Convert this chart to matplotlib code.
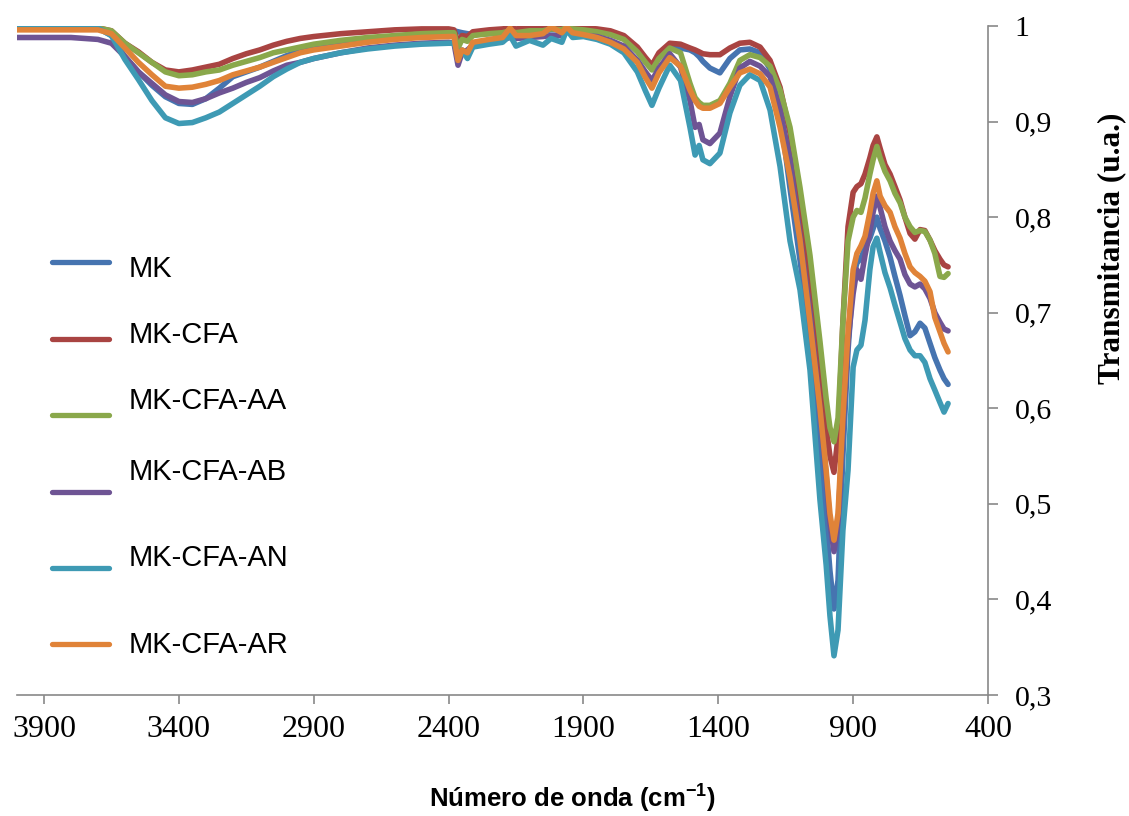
import matplotlib
matplotlib.use("Agg")
import matplotlib.pyplot as plt
from matplotlib.transforms import Affine2D

plt.rcParams['font.family'] = ['Liberation Serif', 'DejaVu Serif']
plt.rcParams['mathtext.fontset'] = 'custom'
plt.rcParams['mathtext.bf'] = 'Liberation Sans:bold'
plt.rcParams['mathtext.rm'] = 'Liberation Sans:bold'

# wavenumber grid (cm-1)
wavenumber = [4000, 3800, 3700, 3650, 3600, 3550, 3500, 3450, 3400, 3350, 3300, 3250,
              3200, 3150, 3100, 3050, 3000, 2950, 2900, 2800, 2700, 2600, 2500, 2400,
              2380, 2365, 2350, 2330, 2310, 2250, 2200, 2172, 2150, 2100, 2050, 2020,
              1980, 1962, 1940,
              1900, 1850, 1800, 1750, 1700, 1670, 1646, 1620, 1580, 1540, 1505, 1486,
              1471, 1457, 1431, 1394, 1357, 1320, 1283, 1245,
              1208, 1171, 1134, 1097, 1060, 1023, 1000, 986, 971, 956, 938, 919, 900,
              886, 871, 856, 838, 826, 812, 800, 782, 763, 745, 726, 708, 689, 671,
              652, 634, 615, 597, 578, 563, 548]

mk = [.999, .999, .998, .990, .968, .952, .938, .926, .919, .918, .924, .935,
      .947, .952, .957, .963, .969, .974, .978, .983, .986, .989, .992, .995,
      .995, .994, .993, .992, .991, .992, .993, .994, .993, .995, .995, .996,
      .996, .998, .998,
      .997, .995, .992, .987, .975, .964, .955, .968, .979, .977, .975, .972,
      .968, .963, .956, .951, .966, .975, .976, .972,
      .955, .910, .830, .755, .675, .560, .480, .430, .390, .420, .550, .660, .737,
      .752, .757, .768, .778, .788, .800, .788, .775, .758, .738, .718, .697, .676, .680,
      .689, .684, .668, .653, .640, .631, .625]

mk_cfa = [.998, .998, .998, .995, .982, .973, .962, .954, .952, .954, .957, .960,
          .966, .971, .975, .980, .984, .987, .989, .992, .994, .996, .997, .997,
          .996, .983, .990, .989, .994, .996, .997, .998, .997, .998, .998, .999,
          .998, .999, .999,
          .998, .997, .995, .990, .978, .967, .959, .972, .982, .981, .977, .975,
          .973, .971, .970, .970, .977, .982, .983, .978,
          .964, .936, .888, .815, .730, .640, .580, .550, .533, .570, .690, .790, .826,
          .832, .835, .845, .862, .875, .884, .872, .855, .845, .832, .818, .800, .783, .777,
          .787, .786, .776, .765, .756, .750, .748]

mk_cfa_aa = [.998, .998, .998, .995, .982, .972, .962, .952, .948, .949, .952, .954,
             .959, .963, .967, .972, .975, .978, .981, .985, .988, .990, .992, .993,
             .993, .977, .986, .984, .990, .992, .993, .995, .993, .995, .995, .997,
             .996, .999, .997,
             .996, .994, .991, .986, .973, .962, .954, .966, .977, .972, .940, .925,
             .920, .917, .917, .922, .940, .964, .970, .967,
             .958, .933, .894, .831, .760, .670, .610, .580, .565, .590, .690, .775, .800,
             .807, .805, .820, .845, .860, .874, .862, .848, .838, .825, .815, .800, .790, .784,
             .786, .785, .776, .762, .738, .737, .741]

mk_cfa_ab = [.988, .988, .986, .982, .968, .952, .940, .928, .921, .920, .924, .930,
             .935, .941, .946, .953, .959, .962, .966, .972, .977, .980, .982, .983,
             .982, .959, .972, .975, .980, .984, .986, .988, .987, .988, .989, .990,
             .990, .995, .991,
             .990, .989, .985, .979, .964, .952, .943, .956, .971, .957, .922, .894,
             .897, .881, .877, .888, .926, .956, .963, .958,
             .947, .912, .860, .780, .700, .600, .530, .480, .450, .480, .580, .670, .720,
             .745, .735, .760, .785, .805, .822, .810, .790, .775, .765, .756, .740, .730, .727,
             .730, .725, .715, .700, .690, .683, .681]

mk_cfa_an = [.999, .999, .998, .990, .965, .944, .922, .904, .898, .899, .904, .910,
             .919, .928, .937, .947, .955, .962, .966, .972, .976, .979, .981, .982,
             .982, .970, .975, .966, .978, .981, .983, .990, .979, .985, .980, .987,
             .983, .996, .988,
             .989, .986, .981, .972, .952, .932, .917, .935, .959, .943, .894, .865,
             .875, .860, .856, .867, .909, .938, .949, .943,
             .912, .853, .775, .724, .640, .504, .436, .383, .341, .368, .472, .535, .643,
             .661, .666, .692, .745, .769, .778, .763, .742, .726, .708, .690, .673, .661, .655,
             .655, .648, .631, .619, .606, .596, .605]

mk_cfa_ar = [.996, .996, .996, .992, .977, .962, .949, .937, .935, .936, .939, .943,
             .949, .953, .957, .962, .967, .972, .975, .979, .983, .986, .988, .989,
             .989, .964, .975, .972, .983, .986, .988, .998, .990, .990, .992, .999,
             .993, .999, .993,
             .991, .988, .983, .976, .962, .946, .935, .951, .967, .958, .933, .922,
             .916, .914, .914, .919, .936, .951, .955, .950,
             .936, .894, .842, .776, .690, .600, .535, .490, .462, .490, .590, .680, .745,
             .762, .770, .780, .805, .825, .838, .822, .812, .805, .790, .778, .762, .748, .742,
             .738, .733, .722, .695, .680, .668, .659]

series = {
    "MK": mk,
    "MK-CFA": mk_cfa,
    "MK-CFA-AA": mk_cfa_aa,
    "MK-CFA-AB": mk_cfa_ab,
    "MK-CFA-AN": mk_cfa_an,
    "MK-CFA-AR": mk_cfa_ar,
}
colors = ['#4674B0', '#A94442', '#8AA84B', '#6E5494', '#3E9AB4', '#E08338']

x_ticks = [3900, 3400, 2900, 2400, 1900, 1400, 900, 400]
y_ticks = [0.3, 0.4, 0.5, 0.6, 0.7, 0.8, 0.9, 1.0]
y_tick_labels = ['0,3', '0,4', '0,5', '0,6', '0,7', '0,8', '0,9', '1']

axis_grey = '#898989'

fig = plt.figure(figsize=(11.29, 8.16), dpi=100)
ax = fig.add_axes([0.0151, 0.1483, 0.8600, 0.8198])

for (name, vals), c in zip(series.items(), colors):
    ax.plot(wavenumber, vals, color=c, lw=4.0, label=name,
            solid_capstyle='round', solid_joinstyle='round')

ax.set_xlim(4000, 400)
ax.set_ylim(0.3, 1.0)
ax.set_xticks(x_ticks)
ax.set_yticks(y_ticks)
ax.set_yticklabels(y_tick_labels)

ax.yaxis.tick_right()
for s in ['left', 'top']:
    ax.spines[s].set_visible(False)
for s in ['right', 'bottom']:
    ax.spines[s].set_color(axis_grey)
    ax.spines[s].set_linewidth(1.2)

ax.tick_params(axis='y', direction='out', length=7, width=1.2, color=axis_grey,
               pad=12, labelsize=21.5)
ax.tick_params(axis='x', direction='out', length=6.5, width=1.2, color=axis_grey,
               pad=8, labelsize=23)

leg = ax.legend(loc='upper left', bbox_to_anchor=(0.036, 0.6645), frameon=False,
                prop={'family': 'Liberation Sans', 'size': 21},
                handlelength=1.95, handletextpad=0.69, labelspacing=1.66,
                borderpad=0, borderaxespad=0)
for h in leg.get_lines():
    h.set_linewidth(3.8)
    h.set_solid_capstyle('round')
# the legend texts sit a little off their keys, as in the original chart
text_shift_px = [-5, 6, 16, 22, 12, 2]
for t, dy in zip(leg.get_texts(), text_shift_px):
    t.set_transform(t.get_transform() + Affine2D().translate(0, dy))

fig.text(0.507, 0.022, r'Número de onda (cm$^{\mathbf{-1}}$)', ha='center', va='center',
         family='Liberation Sans', weight='bold', fontsize=18.5)
fig.text(0.985, 0.696, 'Transmitancia (u.a.)', ha='center', va='center', rotation=90,
         family='Liberation Serif', weight='bold', fontsize=22.5)

fig.savefig('out.png', dpi=100)
